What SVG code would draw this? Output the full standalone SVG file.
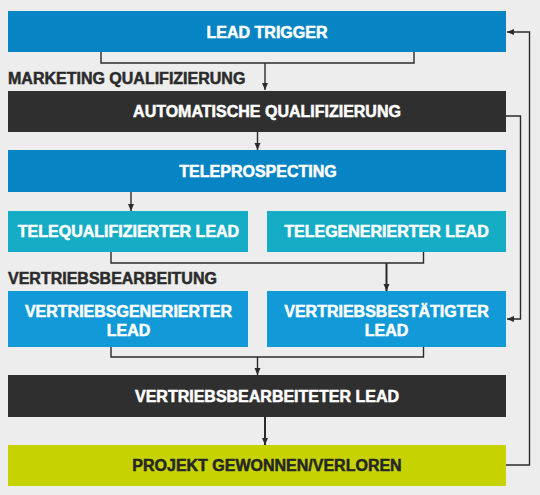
<svg xmlns="http://www.w3.org/2000/svg" width="540" height="495" viewBox="0 0 540 495">
  <defs>
    <marker id="arr" markerUnits="userSpaceOnUse" markerWidth="8" markerHeight="8" viewBox="0 0 8 8" refX="7" refY="4" orient="auto">
      <path d="M0,1 L7,4 L0,7 Z" fill="#2b2b2b"/>
    </marker>
  </defs>
  <style>
    .t { font-family: "Liberation Sans", Arial, sans-serif; font-weight: bold; font-size: 16px; fill: #ffffff; stroke: #ffffff; stroke-width: 0.5; text-anchor: middle; }
    .d { fill: #262626; stroke: #262626; }
    .lbl { font-family: "Liberation Sans", Arial, sans-serif; font-weight: bold; font-size: 16px; fill: #2b2b2b; stroke: #2b2b2b; stroke-width: 0.5; }
    .blue { fill: #0784c3; }
    .blue2 { fill: #119ad7; }
    .teal { fill: #14adc5; }
    .dark { fill: #2f2f2f; }
    .lime { fill: #c6d300; }
    .c { fill: none; stroke: #2b2b2b; stroke-width: 1.4; }
    .c2 { fill: none; stroke: #2b2b2b; stroke-width: 2; }
  </style>
  <rect x="0" y="0" width="540" height="495" fill="#ededed"/>

  <g id="connectors">
    <polyline class="c" points="101,52 101,63 414,63 414,52"/>
    <line class="c" x1="265" y1="63" x2="265" y2="90" marker-end="url(#arr)"/>
    <line class="c" x1="257.5" y1="132" x2="257.5" y2="150" marker-end="url(#arr)"/>
    <line class="c" x1="131" y1="192" x2="131" y2="211" marker-end="url(#arr)"/>
    <polyline class="c" points="111,252 111,263 423.5,263 423.5,252"/>
    <line class="c2" x1="386.5" y1="263" x2="386.5" y2="291" marker-end="url(#arr)"/>
    <polyline class="c" points="111,347 111,357 423.5,357 423.5,347"/>
    <line class="c" x1="257.5" y1="357" x2="257.5" y2="375" marker-end="url(#arr)"/>
    <line class="c2" x1="265" y1="417" x2="265" y2="445" marker-end="url(#arr)"/>
    <polyline class="c" points="506,116 520.5,116 520.5,319 507,319" marker-end="url(#arr)"/>
    <polyline class="c" points="506,465 529.5,465 529.5,32 507,32" marker-end="url(#arr)"/>
  </g>

  <text class="lbl" x="8" y="84">MARKETING QUALIFIZIERUNG</text>
  <text class="lbl" x="8" y="283.5">VERTRIEBSBEARBEITUNG</text>

  <g id="lead-trigger">
    <rect class="blue" x="8" y="11" width="498" height="41"/>
    <text class="t" x="267" y="37.5">LEAD TRIGGER</text>
  </g>
  <g id="automatische-qualifizierung">
    <rect class="dark" x="8" y="91" width="498" height="41"/>
    <text class="t" x="267" y="117">AUTOMATISCHE QUALIFIZIERUNG</text>
  </g>
  <g id="teleprospecting">
    <rect class="blue" x="8" y="150" width="498" height="42"/>
    <text class="t" x="258" y="176.5">TELEPROSPECTING</text>
  </g>
  <g id="telequalifizierter-lead">
    <rect class="teal" x="8" y="211" width="240" height="41"/>
    <text class="t" x="128.5" y="237">TELEQUALIFIZIERTER LEAD</text>
  </g>
  <g id="telegenerierter-lead">
    <rect class="teal" x="267" y="211" width="239" height="41"/>
    <text class="t" x="386.5" y="237">TELEGENERIERTER LEAD</text>
  </g>
  <g id="vertriebsgenerierter-lead">
    <rect class="blue2" x="8" y="291" width="240" height="56"/>
    <text class="t" x="128.5" y="317">VERTRIEBSGENERIERTER</text>
    <text class="t" x="128.5" y="336">LEAD</text>
  </g>
  <g id="vertriebsbestaetigter-lead">
    <rect class="blue2" x="267" y="291" width="239" height="56"/>
    <text class="t" x="386.5" y="317">VERTRIEBSBESTÄTIGTER</text>
    <text class="t" x="386.5" y="336">LEAD</text>
  </g>
  <g id="vertriebsbearbeiteter-lead">
    <rect class="dark" x="8" y="375" width="498" height="42"/>
    <text class="t" x="267" y="401.5">VERTRIEBSBEARBEITETER LEAD</text>
  </g>
  <g id="projekt">
    <rect class="lime" x="8" y="445" width="498" height="41"/>
    <text class="t d" x="267" y="471">PROJEKT GEWONNEN/VERLOREN</text>
  </g>
</svg>
